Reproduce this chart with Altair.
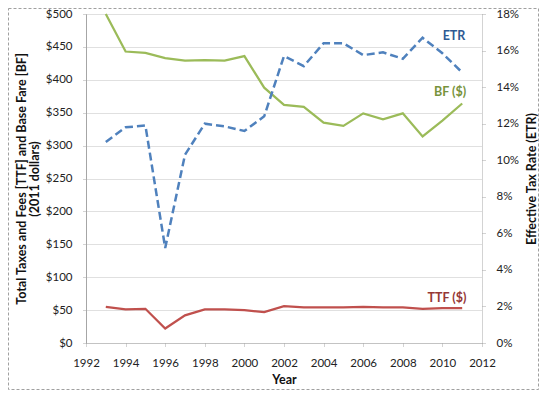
import altair as alt
import pandas as pd

years = list(range(1993, 2012))
bf = [500, 443, 441, 433, 429, 430, 429, 436, 388, 362, 359, 335, 330, 349, 340, 349, 314, 338, 364]
ttf = [55, 51, 52, 22, 42, 51, 51, 50, 47, 56, 54, 54, 54, 55, 54, 54, 52, 53, 53]
etr = [11.0, 11.8, 11.9, 5.2, 10.3, 12.0, 11.85, 11.6, 12.4, 15.7, 15.15, 16.4, 16.4, 15.75, 15.9, 15.55, 16.7, 15.85, 14.8]

df = pd.DataFrame({"Year": years, "BF": bf, "TTF": ttf, "ETR": [v / 100 for v in etr]})

FONT = "Lato"
W, H = 396, 329

xenc = alt.X("Year:Q",
             scale=alt.Scale(domain=[1992, 2012], nice=False),
             axis=alt.Axis(values=list(range(1992, 2013, 2)), format="d", title="Year",
                           grid=False, domainColor="#a6a6a6", domainDash=[1, 1],
                           tickColor="#a6a6a6", tickSize=4, tickDash=[1, 1],
                           labelFontSize=11.5, labelColor="#222", labelPadding=10,
                           labelOverlap=False, labelBound=False, labelFlush=False,
                           titleFontSize=12.5, titleFontWeight="bold", titlePadding=5,
                           titleColor="#111"))

yleft = alt.Scale(domain=[0, 500], nice=False)
left_axis = alt.Axis(values=list(range(0, 501, 50)), labelExpr="'$' + datum.value",
                     title=["Total Taxes and Fees [TTF] and Base Fare [BF]", "(2011 dollars)"],
                     grid=True, gridColor="#c0c0c0", gridDash=[1, 1],
                     domainColor="#a6a6a6", tickColor="#a6a6a6", tickSize=4, tickDash=[1, 1],
                     labelFontSize=11.5, labelColor="#222", labelPadding=10,
                     labelOverlap=False, labelBound=False, labelFlush=False,
                     titleFontSize=12.5, titleFontWeight="bold", titleColor="#111",
                     titleLineHeight=13, titlePadding=4)

bf_line = alt.Chart(df).mark_line(color="#9BBB59", strokeWidth=2.25).encode(
    x=xenc, y=alt.Y("BF:Q", scale=yleft, axis=left_axis))
ttf_line = alt.Chart(df).mark_line(color="#C0504D", strokeWidth=2.25).encode(
    x=xenc, y=alt.Y("TTF:Q", scale=yleft, axis=left_axis))

right_axis = alt.Axis(orient="right", values=[i / 100 for i in range(0, 19, 2)], format=".0%",
                      title="Effective Tax Rate (ETR)", titleAngle=270, grid=False,
                      domainColor="#a6a6a6", domainDash=[1, 1], tickColor="#a6a6a6",
                      tickSize=4, tickDash=[1, 1], labelFontSize=11.5, labelColor="#222",
                      labelPadding=10, labelOverlap=False, labelBound=False, labelFlush=False,
                      titleFontSize=12.5, titleFontWeight="bold",
                      titleColor="#111", titlePadding=20)
etr_line = alt.Chart(df).mark_line(color="#4F81BD", strokeWidth=2.5, strokeDash=[8, 4]).encode(
    x=xenc, y=alt.Y("ETR:Q", scale=alt.Scale(domain=[0, 0.18], nice=False), axis=right_axis))

one = pd.DataFrame({"k": [0]})
lbl_etr = alt.Chart(one).mark_text(text="ETR", color="#2E5A93", font=FONT, fontSize=12.5,
                                   fontWeight="bold").encode(x=alt.value(368), y=alt.value(22))
lbl_bf = alt.Chart(one).mark_text(text="BF ($)", color="#77933C", font=FONT, fontSize=12.5,
                                  fontWeight="bold").encode(x=alt.value(364), y=alt.value(78))
lbl_ttf = alt.Chart(one).mark_text(text="TTF ($)", color="#953735", font=FONT, fontSize=12.5,
                                   fontWeight="bold").encode(x=alt.value(361), y=alt.value(284))
border = alt.Chart(one).mark_rect(fill=None, fillOpacity=0, stroke="#a0a0a0", strokeWidth=1,
                                  strokeDash=[3, 2], clip=False).encode(
    x=alt.value(-77.5), x2=alt.value(452.5), y=alt.value(-5.5), y2=alt.value(375.5))

left = alt.layer(bf_line, ttf_line)
right = alt.layer(etr_line, lbl_etr, lbl_bf, lbl_ttf, border)

chart = alt.layer(left, right).resolve_scale(y="independent").properties(
    width=W, height=H,
    autosize=alt.AutoSizeParams(type="none"),
    padding={"left": 78, "top": 6, "right": 57, "bottom": 47},
    background="white",
).configure_view(stroke=None).configure_axis(labelFont=FONT, titleFont=FONT)

chart.save("out.html", embed_options={"renderer": "svg", "actions": False})
